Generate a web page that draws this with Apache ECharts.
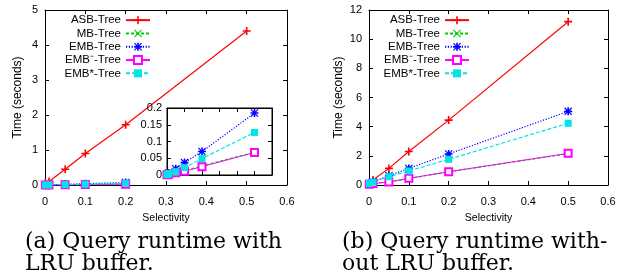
<!DOCTYPE html>
<html>
<head>
<meta charset="utf-8">
<script src="https://cdn.jsdelivr.net/npm/echarts@6/dist/echarts.min.js"></script>
<style>
html,body{margin:0;padding:0;background:#fff;}
#c{width:624px;height:276px;}
</style>
</head>
<body>
<div id="c"></div>
<script>
// ---- data ----
var selectivity = [0.001, 0.01, 0.05, 0.1, 0.2, 0.5];
var seriesNames = ['ASB-Tree', 'MB-Tree', 'EMB-Tree', 'EMB\u207B-Tree', 'EMB*-Tree'];
// (a) with LRU buffer
var asbA      = [0.06, 0.10, 0.45, 0.90, 1.72, 4.40];
var mbA       = [0.001, 0.002, 0.007, 0.013, 0.027, 0.068];
var embA      = [0.001, 0.006, 0.019, 0.037, 0.070, 0.185];
var embMinusA = [0.001, 0.002, 0.007, 0.011, 0.025, 0.067];
var embStarA  = [0.001, 0.004, 0.010, 0.022, 0.049, 0.127];
// (b) without LRU buffer
var asbB      = [0.16, 0.34, 1.14, 2.30, 4.45, 11.20];
var mbB       = [0.05, 0.10, 0.22, 0.45, 0.90, 2.15];
var embB      = [0.10, 0.23, 0.64, 1.14, 2.13, 5.05];
var embMinusB = [0.05, 0.10, 0.20, 0.46, 0.91, 2.17];
var embStarB  = [0.10, 0.20, 0.57, 0.96, 1.76, 4.23];
// tick settings
var xTicks = {min: 0, max: 0.6, interval: 0.1};
var yTicksA = {min: 0, max: 5, interval: 1};
var yTicksInset = {min: 0, max: 0.2, interval: 0.05};
var yTicksB = {min: 0, max: 12, interval: 2};
var captionA = ['(a) Query runtime with', 'LRU buffer.'];
var captionB = ['(b) Query runtime with-', 'out LRU buffer.'];
var xName = 'Selectivity';
var yName = 'Time (seconds)';

// ---- styles ----
var narrow = "'Liberation Sans Narrow','Liberation Sans',Arial,sans-serif";
var sans = "'Liberation Sans',Arial,sans-serif";
var colors = ['#ff0000', '#00d000', '#0000ff', '#ff00ff', '#00e5e5'];
var symbols = [
  'path://M4,0h2v10h-2zM0,4h10v2h-10z',
  'path://M0,1L1,0L10,9L9,10zM9,0L10,1L1,10L0,9z',
  'path://M4,0h2v10h-2zM0,4h10v2h-10zM0,1L1,0L10,9L9,10zM9,0L10,1L1,10L0,9z',
  'emptyRect',
  'rect'
];
var lineTypes = ['solid', [3, 2], [1.2, 1.6], 'solid', [4, 2]];
var symSizes = [8, 8, 8, 7, 7];

function pairs(xs, ys, n) {
  var out = [];
  for (var i = 0; i < n; i++) out.push([xs[i], ys[i]]);
  return out;
}
function mkSeries(idx, data, xi, yi, z) {
  return {
    type: 'line', name: seriesNames[idx], xAxisIndex: xi, yAxisIndex: yi,
    data: data, symbol: symbols[idx], symbolSize: symSizes[idx], symbolKeepAspect: true,
    showSymbol: true, z: z || 2, clip: true,
    lineStyle: {color: colors[idx], width: idx === 3 ? 1 : 1.2, type: lineTypes[idx]},
    itemStyle: {color: colors[idx], borderColor: colors[idx], borderWidth: idx === 3 ? 1.5 : 0},
    emphasis: {disabled: true}
  };
}
function xAx(grid, pos, showLabel, name) {
  return {
    type: 'value', gridIndex: grid, position: pos, min: xTicks.min, max: xTicks.max, interval: xTicks.interval,
    axisLine: {show: true, onZero: false, lineStyle: {color: '#000', width: 1}},
    axisTick: {show: true, inside: true, length: 4, lineStyle: {color: '#000'}},
    axisLabel: {show: showLabel, color: '#000', fontFamily: narrow, fontSize: 11, margin: 11},
    splitLine: {show: false},
    name: name || '', nameLocation: 'middle', nameGap: 28,
    nameTextStyle: {color: '#000', fontFamily: narrow, fontSize: 10.5}
  };
}
function yAx(grid, pos, t, showLabel, name, margin) {
  return {
    type: 'value', gridIndex: grid, position: pos, min: t.min, max: t.max, interval: t.interval,
    axisLine: {show: true, onZero: false, lineStyle: {color: '#000', width: 1}},
    axisTick: {show: true, inside: true, length: 4, lineStyle: {color: '#000'}},
    axisLabel: {show: showLabel, color: '#000', fontFamily: narrow, fontSize: 11, margin: margin || 7},
    splitLine: {show: false},
    name: name || '', nameLocation: 'middle', nameGap: 21, nameRotate: 90,
    nameTextStyle: {color: '#000', fontFamily: sans, fontSize: 12}
  };
}

var N = selectivity.length;
var seriesList = [
  // (a) main
  mkSeries(0, pairs(selectivity, asbA, N), 0, 0),
  mkSeries(1, pairs(selectivity, mbA, 5), 0, 0),
  mkSeries(2, pairs(selectivity, embA, 5), 0, 0),
  mkSeries(3, pairs(selectivity, embMinusA, 5), 0, 0),
  mkSeries(4, pairs(selectivity, embStarA, 5), 0, 0),
  // (a) inset
  mkSeries(1, pairs(selectivity, mbA, N).slice(1), 2, 2, 10),
  mkSeries(2, pairs(selectivity, embA, N).slice(1), 2, 2, 10),
  mkSeries(3, pairs(selectivity, embMinusA, N).slice(1), 2, 2, 10),
  mkSeries(4, pairs(selectivity, embStarA, N).slice(1), 2, 2, 10),
  // (b)
  mkSeries(0, pairs(selectivity, asbB, N), 4, 4),
  mkSeries(1, pairs(selectivity, mbB, N), 4, 4),
  mkSeries(2, pairs(selectivity, embB, N), 4, 4),
  mkSeries(3, pairs(selectivity, embMinusB, N), 4, 4),
  mkSeries(4, pairs(selectivity, embStarB, N), 4, 4)
];
// inset: first point sits at the left edge
seriesList[5].data.unshift([0, mbA[0]]);
seriesList[6].data.unshift([0, embA[0]]);
seriesList[7].data.unshift([0, embMinusA[0]]);
seriesList[8].data.unshift([0, embStarA[0]]);

function legend(rightPx) {
  return {
    orient: 'vertical', align: 'right', right: rightPx, top: 14, padding: 0,
    itemWidth: 24, itemHeight: 10, itemGap: 1, selectedMode: false,
    data: seriesNames,
    textStyle: {color: '#000', fontFamily: narrow, fontSize: 11.5, lineHeight: 12.3}
  };
}

var serif = "'DejaVu Serif','Liberation Serif',serif";
function captionText(x, y, s) {
  return {type: 'text', left: x, top: y, style: {text: s, font: '22px ' + serif, fill: '#000'}};
}

var chart = echarts.init(document.getElementById('c'), null, {renderer: 'canvas'});
chart.setOption({
  animation: false,
  backgroundColor: '#fff',
  grid: [
    {left: 45, top: 10, width: 242, height: 175, show: false},
    {left: 45, top: 10, width: 242, height: 175, show: false},
    {left: 167, top: 108, width: 105, height: 67, show: true, backgroundColor: '#fff', borderColor: '#000', z: 5},
    {left: 167, top: 108, width: 105, height: 67, show: false},
    {left: 369, top: 10, width: 239, height: 175, show: false},
    {left: 369, top: 10, width: 239, height: 175, show: false}
  ],
  xAxis: [
    xAx(0, 'bottom', true, xName),
    xAx(1, 'top', false),
    Object.assign(xAx(2, 'bottom', false), {z: 6}),
    Object.assign(xAx(3, 'top', false), {z: 6}),
    xAx(4, 'bottom', true, xName),
    xAx(5, 'top', false)
  ],
  yAxis: [
    yAx(0, 'left', yTicksA, true, yName),
    yAx(1, 'right', yTicksA, false),
    Object.assign(yAx(2, 'left', yTicksInset, true, '', 5), {z: 6}),
    Object.assign(yAx(3, 'right', yTicksInset, false), {z: 6}),
    Object.assign(yAx(4, 'left', yTicksB, true, yName), {nameGap: 24}),
    yAx(5, 'right', yTicksB, false)
  ],
  legend: [legend(624 - 151), legend(624 - 470)],
  series: seriesList,
  graphic: [
    captionText(25, 231, captionA[0]),
    captionText(25, 253, captionA[1]),
    captionText(342, 231, captionB[0]),
    captionText(342, 253, captionB[1])
  ]
});
</script>
</body>
</html>
